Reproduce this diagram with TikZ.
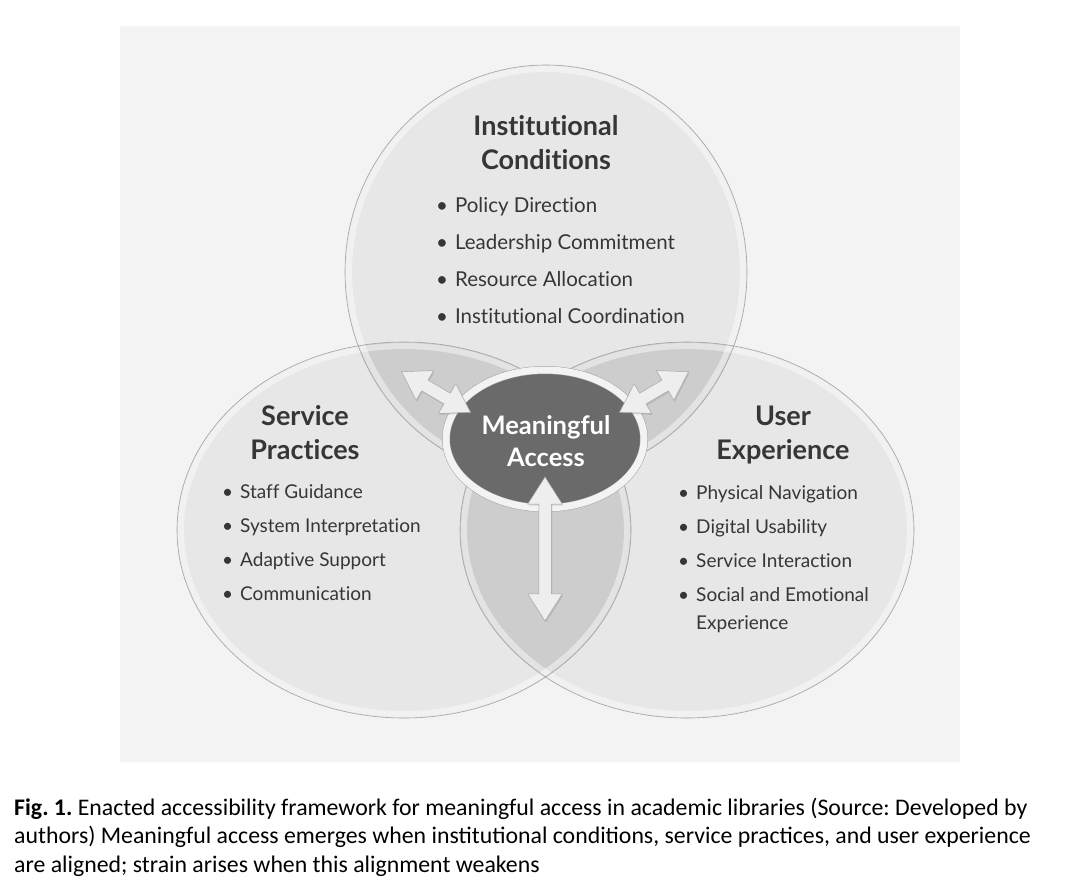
\documentclass[tikz,border=0pt]{standalone}
\usepackage{fontspec}
\setmainfont{Lato}[Ligatures=NoCommon]
\newfontfamily\capfont{Carlito}
\usetikzlibrary{shapes.geometric,shapes.arrows,shadows}

\definecolor{panelgray}{HTML}{F3F3F3}
\definecolor{setgray}{HTML}{E7E7E7}
\definecolor{lensgray}{HTML}{CDCDCD}
\definecolor{edgegray}{HTML}{A4A4A4}
\definecolor{coregray}{HTML}{6A6A6A}
\definecolor{inkgray}{HTML}{363636}
\definecolor{arrowgray}{HTML}{EEEEEE}

\tikzset{
  setfill/.style={fill=setgray},
  setedge/.style={draw=edgegray, line width=0.6pt},
  setrim/.style={draw=white, line width=6pt, opacity=0.45},
  lens/.style={fill=lensgray},
  heading/.style={text=inkgray, inner sep=0pt, anchor=base,
    font=\fontsize{27}{34}\selectfont\bfseries},
  items/.style={text=inkgray, inner sep=0pt, anchor=base west},
  fatarrow/.style={double arrow, draw=gray!70, fill=arrowgray, line width=0.5pt,
    inner xsep=0pt, inner ysep=6pt, minimum width=34pt, double arrow head extend=11pt,
    double arrow tip angle=65,
    drop shadow={opacity=0.25, shadow xshift=1pt, shadow yshift=-1.5pt}}
}

\begin{document}
\frenchspacing
\begin{tikzpicture}[x=1pt, y=-1pt]
  \useasboundingbox (0,0) rectangle (1070,894);
  \fill[white] (0,0) rectangle (1070,894);
  \fill[panelgray] (120,26) rectangle (960,762);

  \coordinate (ctop) at (546,272);
  \coordinate (cleft) at (404,530);
  \coordinate (cright) at (687,530);

  % the three sets
  \fill[setfill] (cleft) ellipse [x radius=227pt, y radius=188pt];
  \fill[setfill] (cright) ellipse [x radius=227pt, y radius=188pt];
  \fill[setfill] (ctop) ellipse [x radius=201pt, y radius=207pt];

  % overlaps
  \begin{scope}
    \clip (ctop) ellipse [x radius=201pt, y radius=207pt];
    \fill[lens] (cleft) ellipse [x radius=227pt, y radius=188pt];
    \fill[lens] (cright) ellipse [x radius=227pt, y radius=188pt];
  \end{scope}
  \begin{scope}
    \clip (cleft) ellipse [x radius=227pt, y radius=188pt];
    \fill[lens] (cright) ellipse [x radius=227pt, y radius=188pt];
  \end{scope}

  \draw[setrim] (cleft) ellipse [x radius=223pt, y radius=184pt];
  \draw[setrim] (cright) ellipse [x radius=223pt, y radius=184pt];
  \draw[setrim] (ctop) ellipse [x radius=197pt, y radius=203pt];
  \draw[setedge] (cleft) ellipse [x radius=227pt, y radius=188pt];
  \draw[setedge] (cright) ellipse [x radius=227pt, y radius=188pt];
  \draw[setedge] (ctop) ellipse [x radius=201pt, y radius=207pt];

  % centre
  \node[ellipse, minimum width=198pt, minimum height=138pt, inner sep=0pt,
    fill=coregray, draw=edgegray, line width=0.5pt, double=setgray!50!white,
    double distance=7pt, drop shadow={opacity=0.3, shadow xshift=1.5pt, shadow yshift=-2.5pt}]
    (access) at (545,439) {};
  \node[text=white, font=\fontsize{25.5}{32}\selectfont\bfseries, align=center]
    (accessText) at (546,441) {Meaningful\\Access};

  \node[fatarrow, minimum height=80pt, rotate=-30.5] (arrowNW) at (436,392) {};
  \node[fatarrow, minimum height=80pt, rotate=30.5] (arrowNE) at (654,392) {};
  \node[fatarrow, minimum height=144pt, rotate=90] (arrowS) at (545,549) {};

  % headings
  \node[heading] (instHead) at (546,135)
    {\begin{tabular}[t]{@{}c@{}}Institutional\\Conditions\end{tabular}};
  \node[heading] (servHead) at (305,425)
    {\begin{tabular}[t]{@{}c@{}}Service\\Practices\end{tabular}};
  \node[heading] (userHead) at (783,425)
    {\begin{tabular}[t]{@{}c@{}}User\\Experience\end{tabular}};

  % bullet lists
  \node[items, font=\fontsize{20.5}{37}\selectfont] (instList) at (436,212)
    {\begin{tabular}[t]{@{}l@{\hspace{7pt}}l@{}}
      \textbullet & Policy Direction\\
      \textbullet & Leadership Commitment\\
      \textbullet & Resource Allocation\\
      \textbullet & Institutional Coordination
    \end{tabular}};
  \node[items, font=\fontsize{19}{34.3}\selectfont] (servList) at (222,498)
    {\begin{tabular}[t]{@{}l@{\hspace{7pt}}l@{}}
      \textbullet & Staff Guidance\\
      \textbullet & System Interpretation\\
      \textbullet & Adaptive Support\\
      \textbullet & Communication
    \end{tabular}};
  \node[items, font=\fontsize{19}{34.3}\selectfont] (userList) at (678,499)
    {\begin{tabular}[t]{@{}l@{\hspace{7pt}}l@{}}
      \textbullet & Physical Navigation\\
      \textbullet & Digital Usability\\
      \textbullet & Service Interaction\\
      \textbullet & Social and Emotional\\[-7pt]
                  & Experience
    \end{tabular}};

  % caption
  \node[anchor=base west, inner sep=0pt, font=\capfont\fontsize{23.8}{28.5}\selectfont]
    (caption) at (14,815)
    {\begin{tabular}[t]{@{}l@{}}
      \textbf{Fig. 1.} Enacted accessibility framework for meaningful access in academic libraries (Source: Developed by\\
      authors) Meaningful access emerges when institutional conditions, service practices, and user experience\\
      are aligned; strain arises when this alignment weakens
    \end{tabular}};
\end{tikzpicture}
\end{document}
